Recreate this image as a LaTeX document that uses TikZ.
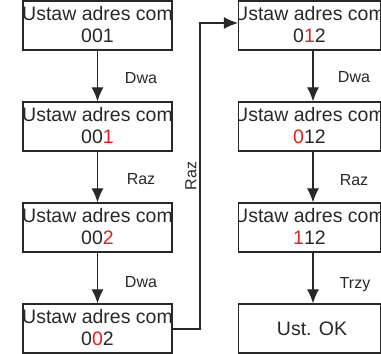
\documentclass[tikz,border=0pt]{standalone}
\usepackage{fontspec}
\setmainfont{Liberation Sans}
\usetikzlibrary{arrows.meta}
\definecolor{dred}{RGB}{230,30,30}
\definecolor{lnc}{RGB}{40,40,40}
\begin{document}
\begin{tikzpicture}[x=1pt,y=-1pt,
  box/.style={draw=lnc,line width=1.3pt,rectangle,inner sep=0pt,minimum height=49pt},
  lbox/.style={box,minimum width=149pt},
  rbox/.style={box,minimum width=142pt},
  btext/.style={path picture={\node[align=center,inner sep=0pt,font=\fontsize{19.5}{22}\selectfont,text=lnc] at ([yshift=1pt]path picture bounding box.center) {#1};}},
  arr/.style={draw=lnc,line width=1.2pt,-{Latex[length=14pt,width=12pt]}},
  lab/.style={font=\fontsize{16}{19}\selectfont,text=lnc,inner sep=1pt}]
\useasboundingbox (0,0) rectangle (381,354);
\fill[white] (0,0) rectangle (381,354);
% left column
\node[lbox,btext={Ustaw adres com\\001}] (l1) at (97.5,25.5) {};
\node[lbox,btext={Ustaw adres com\\00\textcolor{dred}{1}}] (l2) at (97.5,126.5) {};
\node[lbox,btext={Ustaw adres com\\00\textcolor{dred}{2}}] (l3) at (97.5,227.5) {};
\node[lbox,btext={Ustaw adres com\\0\textcolor{dred}{0}2}] (l4) at (97.5,328.5) {};
% right column
\node[rbox,btext={Ustaw adres com\\0\textcolor{dred}{1}2}] (r1) at (309.5,25.5) {};
\node[rbox,btext={Ustaw adres com\\\textcolor{dred}{0}12}] (r2) at (309.5,126.5) {};
\node[rbox,btext={Ustaw adres com\\\textcolor{dred}{1}12}] (r3) at (309.5,227.5) {};
\node[rbox] (r4) at (309.5,328.5) {};
\node[font=\fontsize{19.5}{22}\selectfont,text=lnc,inner sep=0pt] (ok) at (312,329) {Ust. OK};
% arrows left
\draw[arr] (l1) -- (l2);
\draw[arr] (l2) -- (l3);
\draw[arr] (l3) -- (l4);
% arrows right
\draw[arr] ([xshift=3.5pt]r1.south) -- ([xshift=3.5pt]r2.north);
\draw[arr] ([xshift=3.5pt]r2.south) -- ([xshift=3.5pt]r3.north);
\draw[arr] ([xshift=3.5pt]r3.south) -- ([xshift=3.5pt]r4.north);
% loop
\coordinate (c1) at (200,329);
\coordinate (c2) at (200,23);
\draw[arr] (l4.east |- c1) -- (c1) -- (c2) -- (r1.west |- c2);
% labels
\node[lab] (t1) at (141,78) {Dwa};
\node[lab] (t2) at (141,179) {Raz};
\node[lab] (t3) at (141,282) {Dwa};
\node[lab] (t4) at (354,77) {Dwa};
\node[lab] (t5) at (354,180) {Raz};
\node[lab] (t6) at (355,285) {Trzy};
\node[lab,rotate=90] (t7) at (191,176) {Raz};
\end{tikzpicture}
\end{document}
